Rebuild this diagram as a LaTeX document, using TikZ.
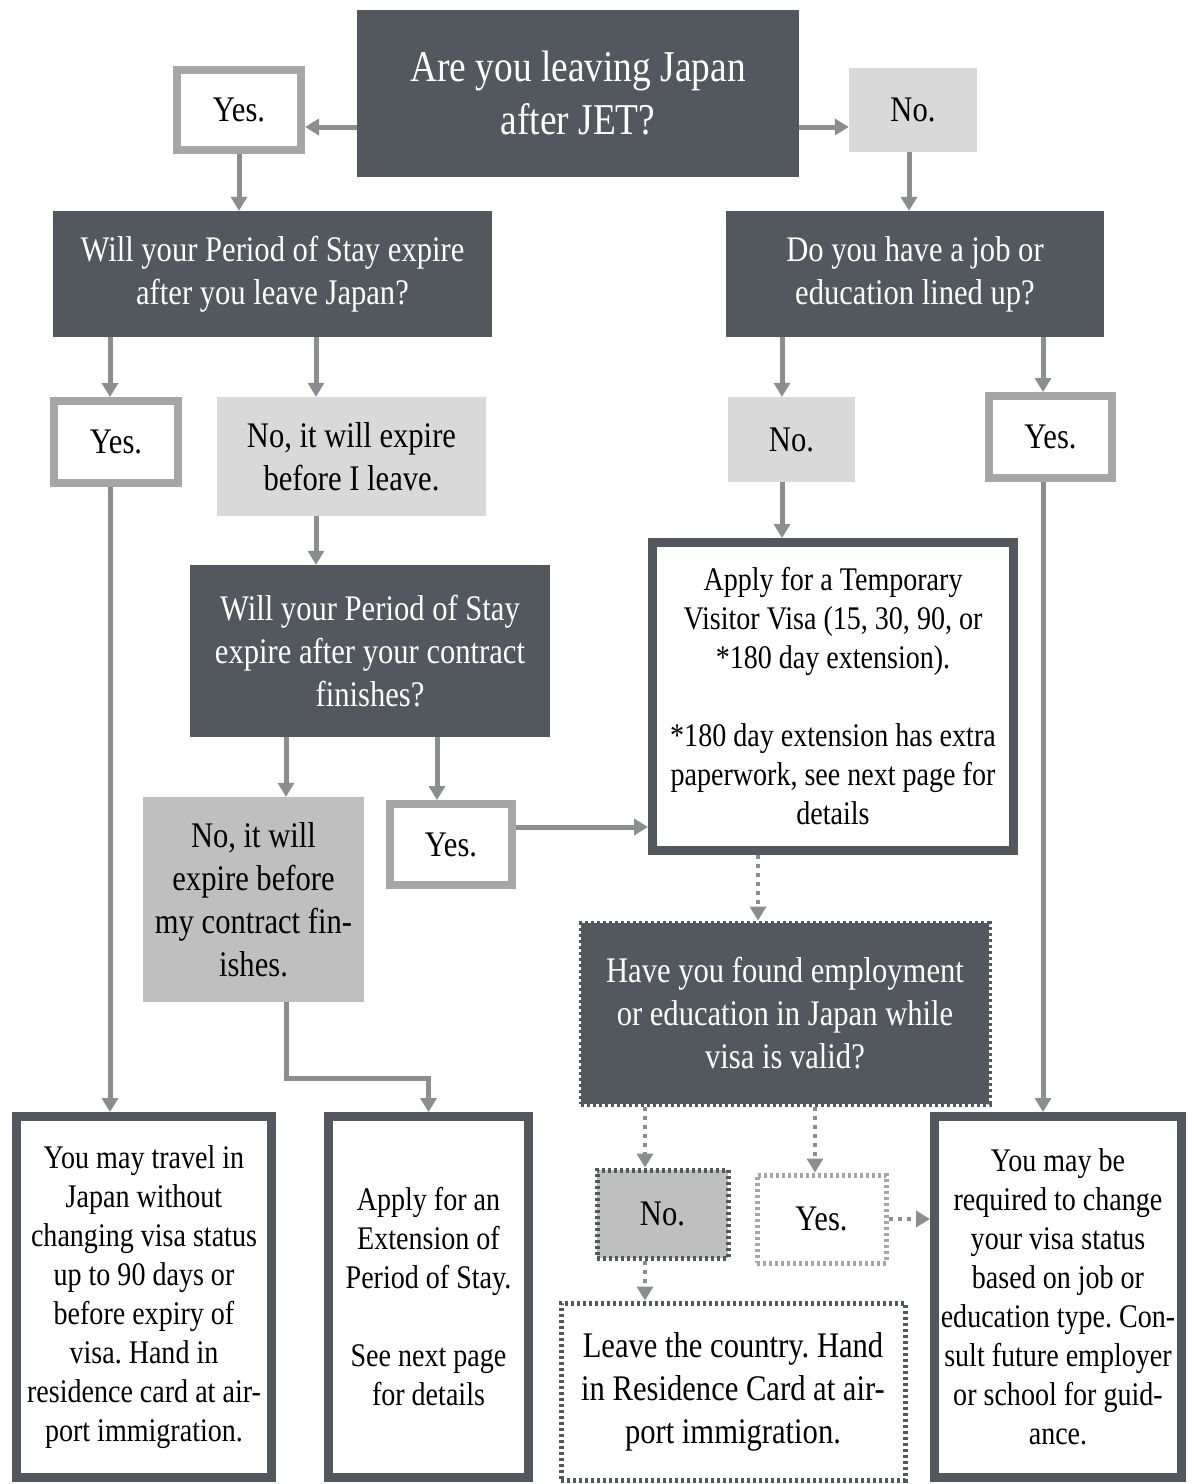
\documentclass[tikz,border=0pt]{standalone}
\usepackage{fontspec}
\setmainfont{Liberation Serif}[FakeStretch=0.85]
\usetikzlibrary{arrows.meta}
\frenchspacing

\definecolor{boxdark}{HTML}{53575E}
\definecolor{edgegray}{HTML}{A6A6A6}
\definecolor{fillpale}{HTML}{D9D9D9}
\definecolor{fillmid}{HTML}{BFBFBF}
\definecolor{arrowgray}{HTML}{8B8D91}

\newcommand{\bigtxt}{\fontsize{44}{53}\selectfont}
\newcommand{\midtxt}{\fontsize{36}{43}\selectfont}
\newcommand{\smalltxt}{\fontsize{33}{39}\selectfont}

\tikzset{
  base/.style={inner sep=0pt, align=center, font=\midtxt},
  qbox/.style={base, fill=boxdark, text=white},
  yesbox/.style={base, draw=edgegray, line width=8pt, fill=white},
  nobox/.style={base, fill=fillpale},
  endbox/.style={base, draw=boxdark, line width=9pt, fill=white, font=\smalltxt},
  dotline/.style={line width=5pt, dash pattern=on 3pt off 3pt},
  arr/.style={draw=arrowgray, line width=5pt, -{Triangle[length=14pt,width=16pt]}},
  dotarr/.style={arr, line width=4pt, dash pattern=on 4pt off 5pt},
}

\begin{document}
\begin{tikzpicture}[x=1pt, y=-1pt]
  \useasboundingbox (0,0) rectangle (1194,1484);
  % first question
  \node[qbox, minimum width=442pt, minimum height=167pt, font=\bigtxt] (leaving) at (578,93.5) {Are you leaving Japan\\after JET?};
  \node[yesbox, minimum width=124pt, minimum height=80pt] (leaveyes) at (239,110) {Yes.};
  \node[nobox, minimum width=128pt, minimum height=84pt] (leaveno) at (913,110) {No.};
  % second row questions
  \node[qbox, minimum width=439pt, minimum height=126pt] (stayq) at (272.5,274) {Will your Period of Stay expire\\after you leave Japan?};
  \node[qbox, minimum width=378pt, minimum height=126pt] (jobq) at (915,274) {Do you have a job or\\education lined up?};
  % answers to them
  \node[yesbox, minimum width=124pt, minimum height=82pt] (stayyes) at (116,442) {Yes.};
  \node[nobox, minimum width=269pt, minimum height=119pt] (stayno) at (351.5,456.5) {No, it will expire\\before I leave.};
  \node[nobox, minimum width=127pt, minimum height=85pt] (jobno) at (791.5,439.5) {No.};
  \node[yesbox, minimum width=123pt, minimum height=82pt] (jobyes) at (1050.5,437) {Yes.};
  % contract question
  \node[qbox, minimum width=360pt, minimum height=172pt] (contractq) at (370,651) {Will your Period of Stay\\expire after your contract\\finishes?};
  \node[base, fill=fillmid, minimum width=221pt, minimum height=205pt] (contractno) at (253.5,899.5) {No, it will\\expire before\\my contract fin-\\ishes.};
  \node[yesbox, minimum width=122pt, minimum height=81pt] (contractyes) at (451,844.5) {Yes.};
  % temporary visitor visa
  \node[endbox, minimum width=361pt, minimum height=308pt] (visa) at (833,696.5) {Apply for a Temporary\\Visitor Visa (15, 30, 90, or\\*180 day extension).\\[39pt]*180 day extension has extra\\paperwork, see next page for\\details};
  % dotted branch
  \node[qbox, dotline, draw=boxdark, minimum width=408pt, minimum height=181pt] (foundq) at (785,1013.5) {Have you found employment\\or education in Japan while\\visa is valid?};
  \node[base, dotline, draw=boxdark, fill=fillmid, minimum width=131pt, minimum height=88pt] (foundno) at (662.5,1214) {No.};
  \node[base, dotline, draw=edgegray, fill=white, minimum width=129pt, minimum height=88pt] (foundyes) at (821.5,1219) {Yes.};
  \node[base, dotline, draw=boxdark, fill=white, minimum width=344pt, minimum height=177pt] (leavebox) at (733,1391.5) {Leave the country. Hand\\in Residence Card at air-\\port immigration.};
  % outcomes at the bottom
  \node[endbox, minimum width=255pt, minimum height=361pt] (travel) at (144,1297) {You may travel in\\Japan without\\changing visa status\\up to 90 days or\\before expiry of\\visa. Hand in\\residence card at air-\\port immigration.};
  \node[endbox, minimum width=200pt, minimum height=361pt] (extend) at (428.5,1297) {Apply for an\\Extension of\\Period of Stay.\\[39pt]See next page\\for details};
  \node[endbox, minimum width=247pt, minimum height=361pt] (change) at (1058,1297) {You may be\\required to change\\your visa status\\based on job or\\education type. Con-\\sult future employer\\or school for guid-\\ance.};

  % solid arrows
  \draw[arr] ([yshift=-33.5pt]leaving.west) -- ([yshift=-17pt]leaveyes.east);
  \draw[arr] ([yshift=-33.5pt]leaving.east) -- ([yshift=-17pt]leaveno.west);
  \draw[arr] (leaveyes.south) -- (leaveyes.south |- stayq.north);
  \draw[arr] ([xshift=-4pt]leaveno.south) -- ([xshift=-6pt]jobq.north);
  \draw[arr] ([xshift=-162.5pt]stayq.south) -- ([xshift=-6pt]stayyes.north);
  \draw[arr] ([xshift=43.5pt]stayq.south) -- ([xshift=-35.5pt]stayno.north);
  \draw[arr] ([xshift=-133pt]jobq.south) -- ([xshift=-9.5pt]jobno.north);
  \draw[arr] ([xshift=128pt]jobq.south) -- ([xshift=-7.5pt]jobyes.north);
  \draw[arr] ([xshift=-35.5pt]stayno.south) -- ([xshift=-54pt]contractq.north);
  \draw[arr] ([xshift=-9.5pt]jobno.south) -- ([xshift=-51pt]visa.north);
  \draw[arr] ([xshift=-84pt]contractq.south) -- ([xshift=32.5pt]contractno.north);
  \draw[arr] ([xshift=67pt]contractq.south) -- ([xshift=-14pt]contractyes.north);
  \draw[arr] ([yshift=17.5pt]contractyes.east) -- ([yshift=-130.5pt]visa.west);
  \draw[arr] ([xshift=-6pt]stayyes.south) -- ([xshift=-34pt]travel.north);
  \draw[arr] ([xshift=32.5pt]contractno.south) -- ++(0,76) -| (extend.north);
  \draw[arr] ([xshift=-7.5pt]jobyes.south) -- ([xshift=-15pt]change.north);
  % dotted arrows
  \draw[dotarr] ([xshift=-75pt]visa.south) -- ([xshift=-27pt]foundq.north);
  \draw[dotarr] ([xshift=-140pt]foundq.south) -- ([xshift=-17.5pt]foundno.north);
  \draw[dotarr] ([xshift=30pt]foundq.south) -- ([xshift=-6.5pt]foundyes.north);
  \draw[dotarr] ([xshift=-17.5pt]foundno.south) -- ([xshift=-88pt]leavebox.north);
  \draw[dotarr] (foundyes.east) -- ([yshift=78pt]change.west);
\end{tikzpicture}
\end{document}
